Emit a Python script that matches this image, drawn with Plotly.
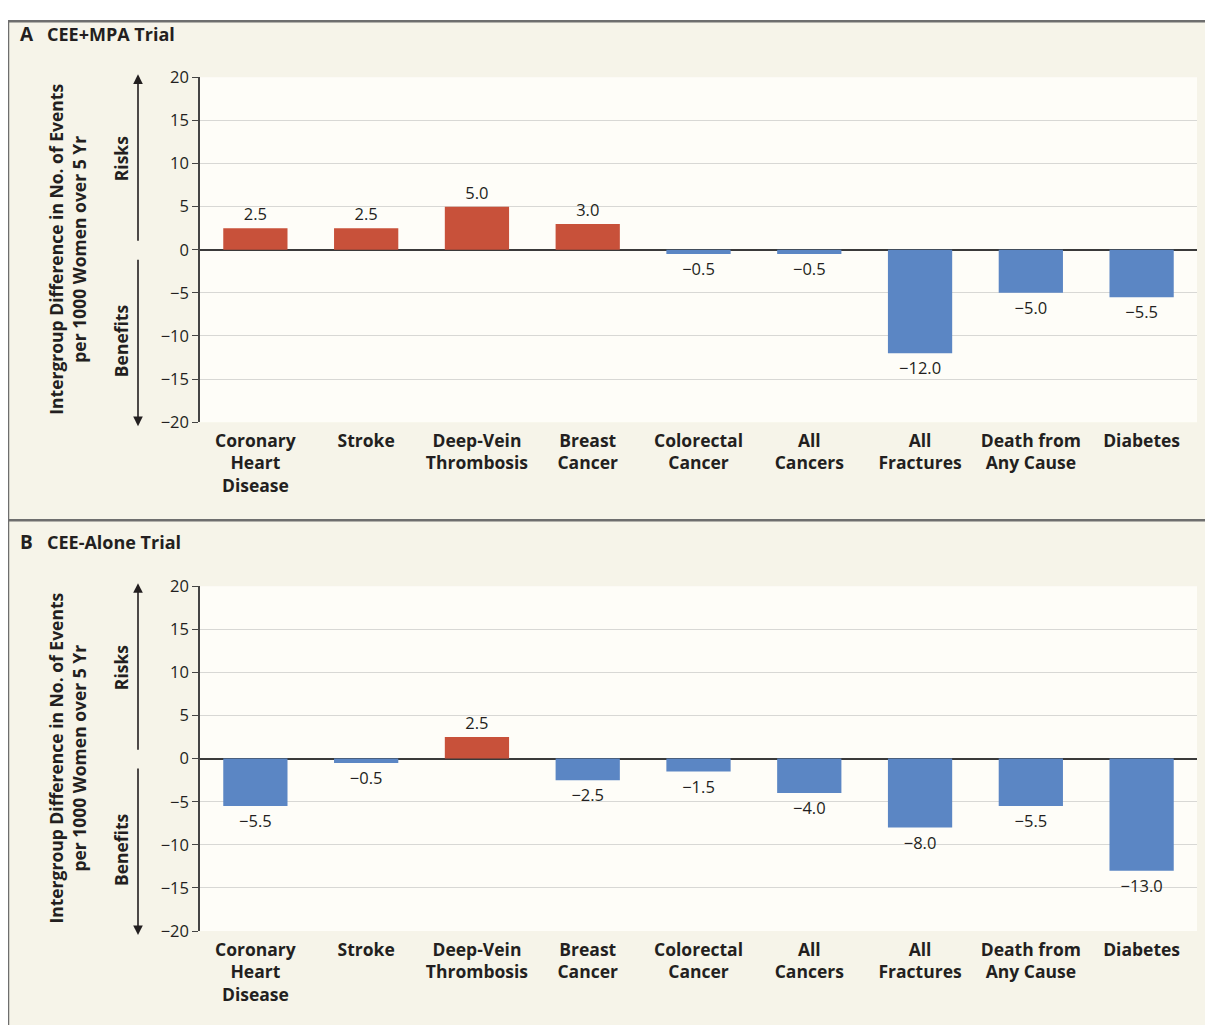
import plotly.graph_objects as go

categories = ["Coronary<br>Heart<br>Disease", "Stroke", "Deep-Vein<br>Thrombosis",
              "Breast<br>Cancer", "Colorectal<br>Cancer", "All<br>Cancers",
              "All<br>Fractures", "Death from<br>Any Cause", "Diabetes"]
values_a = [2.5, 2.5, 5.0, 3.0, -0.5, -0.5, -12.0, -5.0, -5.5]
values_b = [-5.5, -0.5, 2.5, -2.5, -1.5, -4.0, -8.0, -5.5, -13.0]
y_ticks = [-20, -15, -10, -5, 0, 5, 10, 15, 20]
panel_titles = [("A", "CEE+MPA Trial"), ("B", "CEE-Alone Trial")]
y_title = "Intergroup Difference in No. of Events<br>per 1000 Women over 5 Yr"

W, H = 1213, 1025
RED = "#C8513A"
BLUE = "#5B86C4"
DARK = "#231F20"
PANEL_BG = "#F6F4E9"
PLOT_BG = "#FEFDF8"
FONT = "Open Sans"

# screen-pixel -> paper helpers (compensate the page offset seen in rendering)
X_OFF = 7.0
Y_OFF, Y_SCALE = 18.7, 0.9778

def px(x):
    return (x - X_OFF) / W

def py(y):
    return 1 - ((y - Y_OFF) / Y_SCALE) / H

fig = go.Figure()

panels = [
    dict(vals=values_a, top=76, bottom=421, title_y=33, xa="x", ya="y"),
    dict(vals=values_b, top=585, bottom=930, title_y=541, xa="x2", ya="y2"),
]

TOP = min(1.0, py(8))
shapes = [
    dict(type="rect", xref="paper", yref="paper", x0=px(7), x1=1.02, y0=-0.02, y1=TOP,
         fillcolor=PANEL_BG, line=dict(width=0), layer="below"),
    dict(type="line", xref="paper", yref="paper", x0=px(6), x1=1.02, y0=TOP - 0.0012, y1=TOP - 0.0012,
         line=dict(color="#6E6E6E", width=2.5)),
    dict(type="line", xref="paper", yref="paper", x0=px(7), x1=px(7), y0=-0.02, y1=TOP,
         line=dict(color="#6E6E6E", width=2.5)),
    dict(type="line", xref="paper", yref="paper", x0=px(7), x1=1.02, y0=py(519), y1=py(519),
         line=dict(color="#6E6E6E", width=2.5)),
]
annotations = []

for i, p in enumerate(panels):
    vals = p["vals"]
    colors = [RED if v > 0 else BLUE for v in vals]
    labels = [f"{v:.1f}".replace("-", "\u2212") for v in vals]
    fig.add_trace(go.Bar(
        x=categories, y=vals, marker=dict(color=colors, line=dict(width=0)),
        width=0.58, text=labels, textposition="outside", constraintext="none",
        textfont=dict(family=FONT, size=16.5, color=DARK),
        cliponaxis=False, xaxis=p["xa"], yaxis=p["ya"], showlegend=False,
        hoverinfo="skip",
    ))
    suffix = "" if i == 0 else "2"
    fig.layout["xaxis" + suffix] = dict(
        domain=[px(199), px(1196)], anchor="y" + suffix,
        showline=False, showgrid=False, ticks="", zeroline=False,
        ticklabelstandoff=6,
        tickfont=dict(family=FONT, size=17.5, color=DARK, weight="bold"),
        fixedrange=True,
    )
    fig.layout["yaxis" + suffix] = dict(
        domain=[py(p["bottom"]), py(p["top"])], anchor="x" + suffix,
        range=[-20, 20], tickvals=y_ticks,
        showline=True, linecolor="#444444", linewidth=1.5,
        ticks="outside", ticklen=6, tickcolor="#444444", tickwidth=1.2,
        showgrid=True, gridcolor="#D8D8D5", gridwidth=1,
        zeroline=True, zerolinecolor="#3A3A3A", zerolinewidth=1.5,
        tickfont=dict(family=FONT, size=16.5, color=DARK),
        fixedrange=True,
    )
    shapes.append(dict(type="rect", xref="paper", yref="paper",
                       x0=px(199), x1=px(1196), y0=py(p["bottom"]), y1=py(p["top"]),
                       fillcolor=PLOT_BG, line=dict(width=0), layer="below"))
    letter, title = panel_titles[i]
    annotations.append(dict(xref="paper", yref="paper", x=px(17), y=py(p["title_y"]),
                            text=f"<b>{letter}</b>", showarrow=False, xanchor="left",
                            yanchor="middle", font=dict(family=FONT, size=19, color=DARK)))
    annotations.append(dict(xref="paper", yref="paper", x=px(44), y=py(p["title_y"]),
                            text=f"<b>{title}</b>", showarrow=False, xanchor="left",
                            yanchor="middle", font=dict(family=FONT, size=18, color=DARK)))
    zero_y = (p["top"] + p["bottom"]) / 2
    annotations.append(dict(xref="paper", yref="paper", x=px(67), y=py(zero_y),
                            text=f"<b>{y_title}</b>", showarrow=False, textangle=-90,
                            xanchor="center", yanchor="middle",
                            font=dict(family=FONT, size=17.5, color=DARK)))
    annotations.append(dict(xref="paper", yref="paper", x=px(120), y=py(p["top"] + 82),
                            text="<b>Risks</b>", showarrow=False, textangle=-90,
                            xanchor="center", yanchor="middle",
                            font=dict(family=FONT, size=17.5, color=DARK)))
    annotations.append(dict(xref="paper", yref="paper", x=px(120), y=py(p["top"] + 264),
                            text="<b>Benefits</b>", showarrow=False, textangle=-90,
                            xanchor="center", yanchor="middle",
                            font=dict(family=FONT, size=17.5, color=DARK)))
    annotations.append(dict(xref="paper", yref="paper", x=px(137), y=py(p["top"] - 3),
                            ax=0, ay=168, text="", showarrow=True, arrowhead=2,
                            arrowsize=1.2, arrowwidth=1.6, arrowcolor=DARK))
    annotations.append(dict(xref="paper", yref="paper", x=px(137), y=py(p["bottom"] + 4),
                            ax=0, ay=-168, text="", showarrow=True, arrowhead=2,
                            arrowsize=1.2, arrowwidth=1.6, arrowcolor=DARK))

fig.update_layout(
    width=W, height=H, margin=dict(l=0, r=0, t=0, b=0),
    paper_bgcolor="white", plot_bgcolor="rgba(0,0,0,0)",
    shapes=shapes, annotations=annotations,
    font=dict(family=FONT, color=DARK),
)

fig.write_html("out.html")
